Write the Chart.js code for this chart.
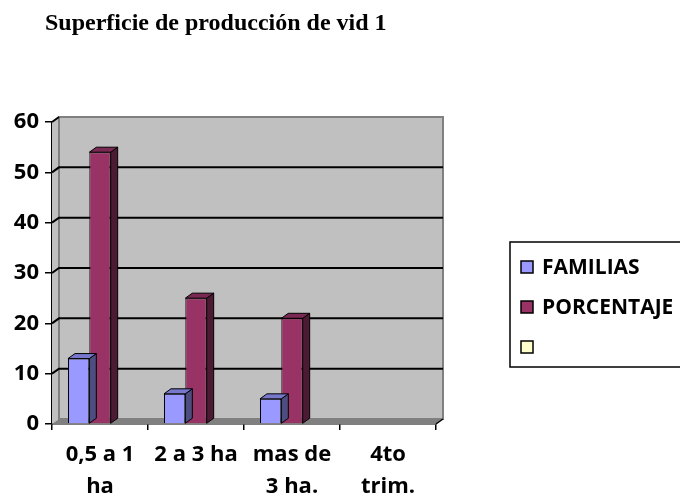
<!DOCTYPE html>
<html>
<head>
<meta charset="utf-8">
<script src="https://cdn.jsdelivr.net/npm/chart.js@4.4.1/dist/chart.umd.min.js"></script>
<style>
  html, body { margin: 0; padding: 0; background: #fff; }
  .wrap { position: relative; width: 680px; height: 498px; }
  .title {
    position: absolute; left: 45px; top: 9px;
    font: bold 24px "Liberation Serif", "Times New Roman", serif;
    color: #000; white-space: nowrap;
  }
</style>
</head>
<body>
<div class="wrap">
  <div class="title">Superficie de producción de vid 1</div>
  <canvas id="vidChart" width="680" height="498"></canvas>
</div>
<script>
const categories = [['0,5 a 1', 'ha'], '2 a 3 ha', ['mas de', '3 ha.'], ['4to', 'trim.']]
const familias = [13, 6, 5, null]
const porcentaje = [54, 25, 21, null]
const tercera = [null, null, null, null]
const yTicks = [0, 10, 20, 30, 40, 50, 60]

const fontFam = '"Open Sans", "Liberation Sans", sans-serif'
const depthX = 7
const depthY = 5

// shades for the 3d faces, by dataset
const faceColors = [
    { top: '#7777cc', side: '#4d4d80' },
    { top: '#7a2952', side: '#4d1a33' },
    { top: '#cccca3', side: '#808066' }
]

const wall3d = {
    id: 'wall3d',
    beforeDatasetsDraw(chart) {
        const { ctx, chartArea: a, scales: { y } } = chart
        ctx.save()
        // side wall
        ctx.fillStyle = '#c0c0c0'
        ctx.beginPath()
        ctx.moveTo(a.left, a.top)
        ctx.lineTo(a.left + depthX, a.top - depthY)
        ctx.lineTo(a.left + depthX, a.bottom - depthY)
        ctx.lineTo(a.left, a.bottom)
        ctx.closePath()
        ctx.fill()
        // back wall
        ctx.fillRect(a.left + depthX, a.top - depthY, a.right - a.left, a.bottom - a.top)
        ctx.strokeStyle = '#808080'
        ctx.lineWidth = 2
        ctx.strokeRect(a.left + depthX, a.top - depthY, a.right - a.left, a.bottom - a.top)
        // floor
        ctx.fillStyle = '#808080'
        ctx.beginPath()
        ctx.moveTo(a.left, a.bottom)
        ctx.lineTo(a.left + depthX, a.bottom - depthY)
        ctx.lineTo(a.right + depthX, a.bottom - depthY)
        ctx.lineTo(a.right, a.bottom)
        ctx.closePath()
        ctx.fill()
        // grid lines
        ctx.strokeStyle = '#000'
        ctx.lineWidth = 2
        yTicks.forEach(v => {
            if (v === 0) return
            const py = y.getPixelForValue(v)
            ctx.beginPath()
            ctx.moveTo(a.left, py)
            ctx.lineTo(a.left + depthX, py - depthY)
            if (v !== 60) ctx.lineTo(a.right + depthX, py - depthY)
            ctx.stroke()
        })
        ctx.restore()
    },
    afterDatasetDraw(chart, args) {
        const { ctx } = chart
        const shade = faceColors[args.index]
        const values = chart.data.datasets[args.index].data
        ctx.save()
        ctx.strokeStyle = '#000'
        ctx.lineWidth = 1
        args.meta.data.forEach((bar, j) => {
            if (values[j] == null) return
            const x0 = bar.x - bar.width / 2
            const x1 = bar.x + bar.width / 2
            const top = bar.y
            const base = bar.base
            // side
            ctx.fillStyle = shade.side
            ctx.beginPath()
            ctx.moveTo(x1, top)
            ctx.lineTo(x1 + depthX, top - depthY)
            ctx.lineTo(x1 + depthX, base - depthY)
            ctx.lineTo(x1, base)
            ctx.closePath()
            ctx.fill()
            ctx.stroke()
            // top
            ctx.fillStyle = shade.top
            ctx.beginPath()
            ctx.moveTo(x0, top)
            ctx.lineTo(x0 + depthX, top - depthY)
            ctx.lineTo(x1 + depthX, top - depthY)
            ctx.lineTo(x1, top)
            ctx.closePath()
            ctx.fill()
            ctx.stroke()
        })
        ctx.restore()
    }
}

const boxLegend = {
    id: 'boxLegend',
    afterDraw(chart) {
        const { ctx, chartArea: a } = chart
        ctx.save()
        // little slanted end of the floor at the right
        ctx.strokeStyle = '#000'
        ctx.lineWidth = 1.5
        ctx.beginPath()
        ctx.moveTo(a.right, a.bottom)
        ctx.lineTo(a.right + depthX, a.bottom - depthY)
        ctx.stroke()

        ctx.strokeRect(510, 242, 190, 125)
        ctx.font = 'bold 21px ' + fontFam
        ctx.textBaseline = 'middle'
        chart.data.datasets.forEach((ds, i) => {
            const cy = 267 + i * 40
            ctx.fillStyle = ds.backgroundColor
            ctx.fillRect(521, cy - 6, 12, 12)
            ctx.strokeRect(521, cy - 6, 12, 12)
            ctx.fillStyle = '#000'
            ctx.fillText(ds.label, 542, cy + 1)
        })
        ctx.restore()
    }
}

new Chart(document.getElementById('vidChart'), {
    type: 'bar',
    data: {
        labels: categories,
        datasets: [{
            label: 'FAMILIAS',
            data: familias,
            backgroundColor: '#9999ff',
        }, {
            label: 'PORCENTAJE',
            data: porcentaje,
            backgroundColor: '#993366',
        }, {
            label: '',
            data: tercera,
            backgroundColor: '#ffffcc',
        }]
    },
    options: {
        responsive: false,
        animation: false,
        events: [],
        layout: {
            padding: { left: 0, right: 244, top: 122, bottom: 0 }
        },
        datasets: {
            bar: {
                borderColor: '#000',
                borderWidth: 1,
                categoryPercentage: 0.667,
                barPercentage: 1
            }
        },
        plugins: {
            legend: { display: false },
            title: { display: false },
            tooltip: { enabled: false }
        },
        scales: {
            x: {
                afterFit: scale => { scale.height = 74 },
                grid: {
                    offset: true,
                    drawOnChartArea: false,
                    tickLength: 6,
                    color: '#000',
                    lineWidth: 1.5
                },
                border: { color: '#000', width: 1.5 },
                ticks: {
                    color: '#000',
                    padding: 9,
                    maxRotation: 0,
                    font: { family: fontFam, size: 22, weight: 'bold', lineHeight: 1.45 }
                }
            },
            y: {
                min: 0,
                max: 60,
                afterFit: scale => { scale.width = 52 },
                grid: {
                    drawOnChartArea: false,
                    tickLength: 7,
                    color: '#000',
                    lineWidth: 1.5
                },
                border: { color: '#000', width: 1.5 },
                ticks: {
                    stepSize: 10,
                    color: '#000',
                    padding: 6,
                    font: { family: fontFam, size: 22, weight: 'bold' }
                }
            }
        }
    },
    plugins: [wall3d, boxLegend]
})
</script>
</body>
</html>
